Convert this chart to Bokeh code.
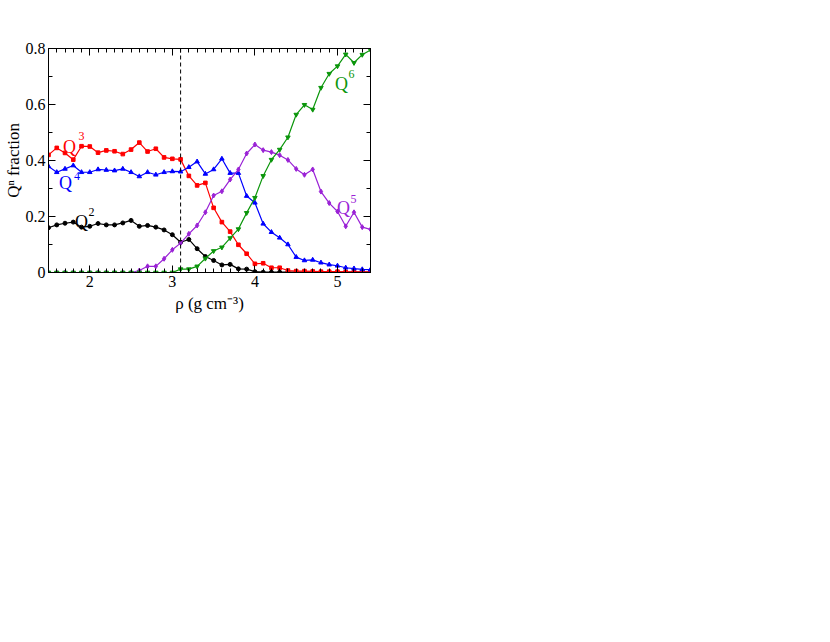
from bokeh.plotting import figure
from bokeh.models import Range1d, FixedTicker, LinearAxis, Span, CustomJSTickFormatter
from bokeh.core.properties import value
from bokeh.embed import file_html
from bokeh.resources import INLINE

rho = [1.5, 1.6, 1.7, 1.8, 1.9, 2.0, 2.1, 2.2, 2.3, 2.4,
       2.5, 2.6, 2.7, 2.8, 2.9, 3.0, 3.1, 3.2, 3.3, 3.4,
       3.5, 3.6, 3.7, 3.8, 3.9, 4.0, 4.1, 4.2, 4.3, 4.4,
       4.5, 4.6, 4.7, 4.8, 4.9, 5.0, 5.1, 5.2, 5.3, 5.4]

q2 = [0.160, 0.170, 0.176, 0.180, 0.162, 0.165, 0.175, 0.170, 0.170, 0.177,
      0.186, 0.165, 0.168, 0.162, 0.152, 0.135, 0.108, 0.118, 0.085, 0.057,
      0.043, 0.027, 0.029, 0.013, 0.012, 0.003, 0.001, 0.001, 0.001, 0.001,
      0.001, 0.001, 0.001, 0.001, 0.001, 0.001, 0.001, 0.001, 0.001, 0.001]

q3 = [0.420, 0.445, 0.427, 0.403, 0.451, 0.450, 0.428, 0.436, 0.433, 0.423,
      0.439, 0.464, 0.432, 0.442, 0.411, 0.406, 0.404, 0.345, 0.311, 0.320,
      0.231, 0.180, 0.146, 0.099, 0.067, 0.031, 0.033, 0.017, 0.017, 0.007,
      0.005, 0.005, 0.004, 0.003, 0.003, 0.003, 0.002, 0.002, 0.002, 0.002]

q4 = [0.379, 0.358, 0.370, 0.382, 0.358, 0.358, 0.368, 0.366, 0.364, 0.370,
      0.358, 0.343, 0.358, 0.349, 0.358, 0.361, 0.360, 0.376, 0.396, 0.352,
      0.368, 0.406, 0.355, 0.355, 0.273, 0.249, 0.174, 0.144, 0.124, 0.100,
      0.055, 0.043, 0.045, 0.035, 0.028, 0.024, 0.017, 0.014, 0.011, 0.010]

q5 = [0.0, 0.0, 0.0, 0.0, 0.0, 0.0, 0.0, 0.0, 0.0, 0.0,
      0.0, 0.007, 0.022, 0.022, 0.049, 0.081, 0.105, 0.138, 0.168, 0.215,
      0.275, 0.290, 0.332, 0.368, 0.425, 0.457, 0.437, 0.430, 0.419, 0.402,
      0.370, 0.349, 0.368, 0.289, 0.248, 0.218, 0.165, 0.215, 0.162, 0.154]

q6 = [0.0, 0.0, 0.0, 0.0, 0.0, 0.0, 0.0, 0.0, 0.0, 0.0,
      0.0, 0.0, 0.0, 0.0, 0.0, 0.0, 0.012, 0.012, 0.022, 0.050,
      0.077, 0.090, 0.123, 0.155, 0.213, 0.267, 0.345, 0.403, 0.439, 0.483,
      0.564, 0.599, 0.582, 0.660, 0.710, 0.737, 0.779, 0.749, 0.778, 0.795]

x_ticks = [2, 3, 4, 5]
x_minor = [1.5, 1.6, 1.7, 1.8, 1.9, 2.1, 2.2, 2.3, 2.4, 2.5, 2.6, 2.7, 2.8, 2.9,
           3.1, 3.2, 3.3, 3.4, 3.5, 3.6, 3.7, 3.8, 3.9, 4.1, 4.2, 4.3, 4.4, 4.5,
           4.6, 4.7, 4.8, 4.9, 5.1, 5.2, 5.3, 5.4]
y_ticks = [0, 0.2, 0.4, 0.6, 0.8]
y_minor = [0.1, 0.3, 0.5, 0.7]
y_labels = {0: "0", 0.2: "0.2", 0.4: "0.4", 0.6: "0.6", 0.8: "0.8"}

dashed_rho = 3.1

label_names = ["Q", "Q", "Q", "Q", "Q"]
label_sups = ["2", "3", "4", "5", "6"]
label_colors = ["black", "#ff0000", "#0000ff", "#9a22d6", "#0b960b"]
label_x = [1.820, 1.675, 1.626, 4.993, 4.969]
label_y = [0.182, 0.450, 0.318, 0.229, 0.673]
sup_x = [1.984, 1.863, 1.809, 5.158, 5.134]
sup_y = [0.216, 0.486, 0.345, 0.264, 0.709]

FONT = "Liberation Serif"

p = figure(frame_width=322, frame_height=224, output_backend="svg",
           toolbar_location=None, x_range=Range1d(1.5, 5.4),
           y_range=Range1d(0, 0.8), min_border_left=40, min_border_top=48,
           min_border_right=12, min_border_bottom=50,
           background_fill_color="white", border_fill_color="white")
p.xgrid.visible = False
p.ygrid.visible = False
p.outline_line_color = "black"
p.outline_line_width = 1

xt = FixedTicker(ticks=x_ticks, minor_ticks=x_minor)
yt = FixedTicker(ticks=y_ticks, minor_ticks=y_minor)

def style(ax):
    ax.major_tick_in = 7
    ax.major_tick_out = 0
    ax.minor_tick_in = 4
    ax.minor_tick_out = 0
    ax.axis_line_color = "black"
    ax.major_tick_line_color = "black"
    ax.minor_tick_line_color = "black"
    ax.major_label_text_font = FONT
    ax.axis_label_text_font = FONT
    ax.axis_label_text_font_style = "normal"
    ax.major_label_text_color = "black"
    ax.axis_label_text_color = "black"
    ax.major_label_text_font_size = "16px"
    ax.axis_label_text_font_size = "17px"

p.xaxis.ticker = xt
p.yaxis.ticker = yt
p.yaxis.major_label_overrides = y_labels
p.xaxis.axis_label = "ρ (g cm⁻³)"
p.yaxis.axis_label = "Qⁿ fraction"
style(p.xaxis[0])
style(p.yaxis[0])
p.xaxis.major_label_standoff = 3
p.yaxis.major_label_standoff = 3
p.xaxis.axis_label_standoff = 4
p.yaxis.axis_label_standoff = 0

top = LinearAxis(ticker=xt, formatter=CustomJSTickFormatter(code="return '';"),
                 major_label_standoff=0)
style(top)
p.add_layout(top, "above")
right = LinearAxis(ticker=yt, formatter=CustomJSTickFormatter(code="return '';"),
                   major_label_standoff=0)
style(right)
p.add_layout(right, "right")

p.add_layout(Span(location=dashed_rho, dimension="height", line_color="black",
                  line_width=1, line_dash="4 3"))

series = [
    (q2, "black", "circle", 4),
    (q3, "#ff0000", "square", 3.6),
    (q4, "#0000ff", "triangle", 4.5),
    (q5, "#9a22d6", "diamond", 5),
    (q6, "#0b960b", "inverted_triangle", 4.5),
]
for ys, col, mk, sz in series:
    p.line(rho, ys, line_color=col, line_width=1.2)
    p.scatter(rho, ys, marker=mk, size=sz, fill_color=col, line_color=col)

p.text(x=label_x, y=label_y, text=label_names, text_color=label_colors,
       text_font=value(FONT), text_font_size=value("18px"),
       text_baseline="alphabetic", text_align="left")
p.text(x=sup_x, y=sup_y, text=label_sups, text_color=label_colors,
       text_font=value(FONT), text_font_size=value("12px"),
       text_baseline="alphabetic", text_align="left")

open("out.html", "w").write(file_html(p, INLINE))
